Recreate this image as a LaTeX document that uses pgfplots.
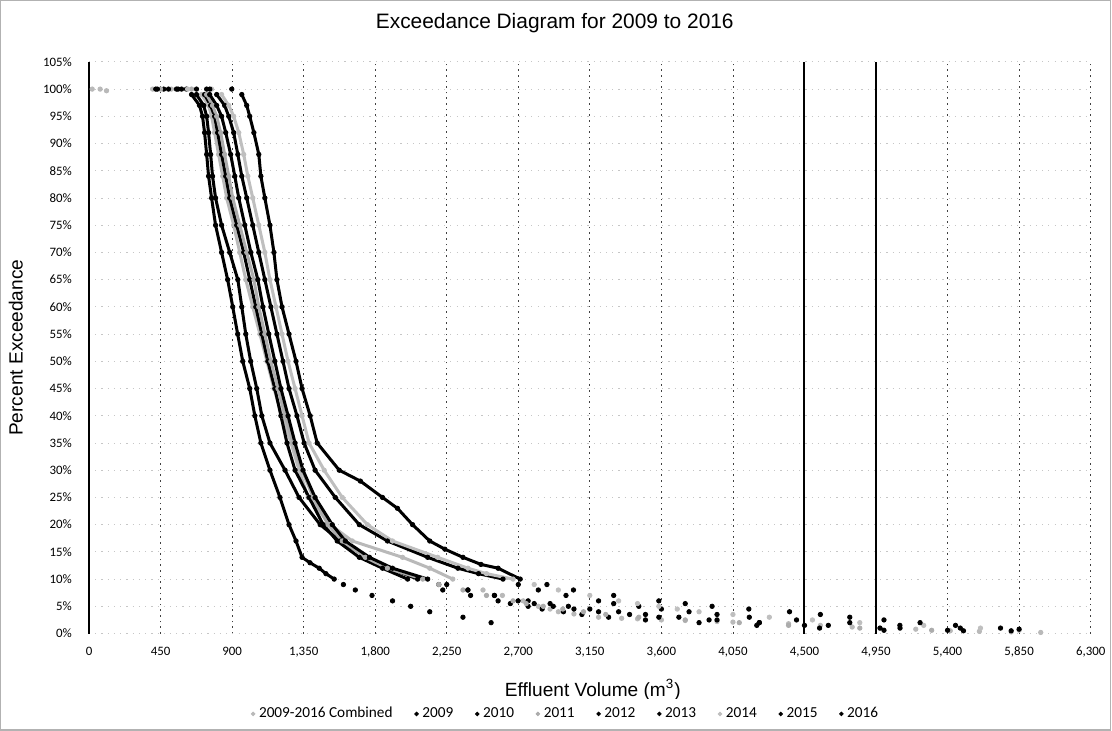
\documentclass[border=0pt]{standalone}
\usepackage{pgfplots}
\pgfplotsset{compat=1.18}
\usepackage{pgfplotstable}
\usepackage{fontspec}
\setmainfont{Liberation Sans}
\newfontfamily\carlito{Carlito}

% exceedance curves: volume (m3), exceedance (%)
\pgfplotstableread{
x y
20 100
70 100
110 99.7
400 100
518 100
708 99
752 97
771 95
790 92
815 88
841 84
866 80
910 75
948 70
986 65
1030 60
1075 55
1119 50
1163 45
1214 40
1271 35
1321 30
1378 25
1517 20
1656 17
1972 14
2143 12
2288 10
2478 8
2600 7
2731 6
2826 5
2900 4.5
2952 4
3050 3.6
3205 3
3350 2.8
3450 2.7
3600 2.5
3750 2.4
3950 2.2
4050 2.1
4216 2
4400 1.8
4600 1.5
4800 1.2
4975 1
5200 0.8
5417 0.5
5600 0.4
5800 0.3
5986 0.2
}\tComb
\pgfplotstableread{
x y
420 100
582 100
727 99
765 97
790 95
809 92
834 88
860 84
885 80
929 75
973 70
1011 65
1049 60
1087 55
1125 50
1169 45
1207 40
1245 35
1296 30
1384 25
1473 20
1561 17
1700 14
1846 12
2004 10
2225 8
2400 7
2573 6
2650 5.5
2762 5
2850 4.5
2984 4
3100 3.5
3268 3
3500 2.5
3837 2
4200 1.5
4595 1
5000 0.6
}\tNine
\pgfplotstableread{
x y
470 100
613 100
676 99
721 97
740 95
752 92
765 88
777 84
796 80
834 75
885 70
936 65
961 60
986 55
1017 50
1055 45
1087 40
1138 35
1233 30
1321 25
1454 20
1580 17
1751 14
1890 12
2067 10
2200 9
2383 8
2550 7
2762 6
2900 5.5
3015 5
3150 4.5
3331 4
3500 3.5
3710 3
3950 2.5
4216 2
4500 1.5
4975 1
5400 0.6
}\tTen
\pgfplotstableread{
x y
450 100
645 100
740 99
777 97
803 95
828 92
853 88
879 84
904 80
948 75
992 70
1037 65
1068 60
1106 55
1144 50
1188 45
1233 40
1283 35
1340 30
1410 25
1504 20
1593 17
1738 14
1877 12
2099 10
2200 9
2352 8
2500 7
2667 6
2750 5.5
2857 5
2980 4.5
3110 4
3250 3.5
3458 3
3750 2.5
4090 2
4400 1.5
4848 1
5300 0.6
}\tEleven
\pgfplotstableread{
x y
500 100
676 100
759 99
803 97
834 95
860 92
891 88
917 84
942 80
980 75
1018 70
1062 65
1094 60
1131 55
1169 50
1207 45
1252 40
1296 35
1346 30
1422 25
1530 20
1612 17
1764 14
1909 12
2130 10
2250 9
2383 8
2550 7
2699 6
2800 5.5
2920 5
3050 4.5
3205 4
3400 3.5
3584 3
3900 2.5
4216 2
4650 1.5
5101 1
5500 0.5
}\tTwelve
\pgfplotstableread{
x y
560 100
740 100
803 99
853 97
879 95
910 92
936 88
961 84
992 80
1030 75
1068 70
1106 65
1144 60
1182 55
1220 50
1258 45
1308 40
1353 35
1422 30
1549 25
1700 20
1877 17
2130 14
2320 12
2450 11
2604 10
2700 9
2826 8
3000 7
3205 6
3300 5.5
3458 5
3600 4.5
3774 4
3950 3.5
4153 3
4450 2.5
4785 2
5100 1.5
5480 1
5800 0.5
}\tThirteen
\pgfplotstableread{
x y
620 100
771 100
834 99
879 97
910 95
942 92
973 88
999 84
1030 80
1068 75
1106 70
1138 65
1176 60
1214 55
1252 50
1296 45
1340 40
1384 35
1479 30
1593 25
1751 20
1909 17
2193 14
2383 12
2500 11
2667 10
2800 9
2952 8
3150 7
3331 6
3450 5.5
3584 5
3700 4.5
3837 4
4050 3.5
4279 3
4550 2.5
4848 2
5250 1.5
5607 1
5850 0.6
}\tFourteen
\pgfplotstableread{
x y
430 100
550 100
645 99
695 97
714 95
727 92
740 88
752 84
771 80
796 75
834 70
872 65
904 60
935 55
967 50
1011 45
1043 40
1081 35
1138 30
1201 25
1258 20
1302 17
1340 14
1390 13
1448 12
1490 11
1542 10
1600 9
1675 8
1780 7
1909 6
2023 5
2143 4
2352 3
2529 2
}\tFifteen
\pgfplotstableread{
x y
760 100
898 100
961 99
992 97
1011 95
1037 92
1068 88
1081 84
1106 80
1138 75
1163 70
1182 65
1214 60
1258 55
1302 50
1340 45
1391 40
1435 35
1574 30
1707 28
1846 25
1940 23
2035 20
2143 17
2238 15.5
2352 14
2465 12.7
2573 12
2712 10
2880 9
3047 8
3300 7
3584 6
3750 5.5
3919 5
4150 4.5
4406 4
4600 3.5
4785 3
5000 2.5
5227 2
5450 1.5
5733 1
5850 0.8
}\tSixteen

% one series: a thick trace through the steep part, dots everywhere
\newcommand{\series}[3]{%
  \addplot[#2, line width=1.5pt, forget plot,
    restrict y to domain=10:99.5, restrict x to domain=300:7000] table {#1};
  \addplot[#2, only marks, mark=*, mark size=1.1pt] table {#1};
  \addlegendentry{#3}}

\begin{document}
\begin{tikzpicture}
\begin{axis}[
  name=ax,
  scale only axis, width=498.5pt, height=284.5pt,
  xmin=0, xmax=6300, ymin=0, ymax=105,
  xtick={0,450,...,6300}, ytick={0,5,...,105},
  /pgf/number format/assume math mode=true,
  /pgf/number format/1000 sep={,},
  yticklabel={\pgfmathprintnumber{\tick}\%},
  tick label style={font=\carlito\fontsize{6.4}{7}\selectfont},
  yticklabel style={xshift=-5pt},
  xticklabel style={yshift=-3pt},
  major tick length=0pt,
  axis x line*=bottom, axis y line*=left,
  axis line style={-},
  x axis line style={draw=none},
  y axis line style={black, line width=0.6pt},
  xmajorgrids, ymajorgrids,
  x grid style={black!75, dash pattern=on 0.8pt off 2pt, line width=0.4pt},
  y grid style={gray!45, dash pattern=on 0.6pt off 2.5pt, line width=0.4pt},
  extra x ticks={4500,4950}, extra x tick labels={},
  extra x tick style={x grid style={black, solid, line width=1pt}},
  title={Exceedance Diagram for 2009 to 2016},
  title style={at={(0.465,1)}, anchor=south, yshift=5pt,
    font=\fontsize{10.4}{12}\selectfont},
  xlabel={Effluent Volume (m\textsuperscript{3})},
  xlabel style={at={(axis description cs:0.503,-0.098)}, anchor=center,
    font=\fontsize{9.5}{11}\selectfont},
  ylabel={Percent Exceedance},
  ylabel style={at={(axis description cs:-0.073,0.5)}, anchor=center,
    font=\fontsize{9.5}{11}\selectfont},
  legend columns=9,
  legend style={at={(0.477,-0.1406)}, anchor=center, draw=none,
    font=\carlito\fontsize{7.6}{9}\selectfont,
    /tikz/every even column/.append style={column sep=9pt}},
  legend image code/.code={\draw[#1] plot coordinates {(0.06cm,0cm)};},
  legend image post style={mark size=0.9pt},
]
\series{\tComb}{gray!55}{2009-2016 Combined}
\series{\tNine}{black}{2009}
\series{\tTen}{black}{2010}
\series{\tEleven}{gray!65}{2011}
\series{\tTwelve}{black}{2012}
\series{\tThirteen}{black}{2013}
\series{\tFourteen}{gray!50}{2014}
\series{\tFifteen}{black}{2015}
\series{\tSixteen}{black}{2016}
\end{axis}
\draw[gray!60, line width=0.6pt]
  ([shift={(-44pt,-48pt)}]ax.south west) rectangle
  ([shift={(10pt,30.5pt)}]ax.north east);
\end{tikzpicture}
\end{document}
